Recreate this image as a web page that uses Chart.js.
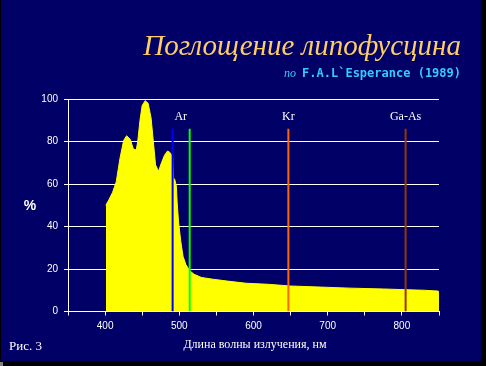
<!DOCTYPE html>
<html>
<head>
<meta charset="utf-8">
<script src="https://cdn.jsdelivr.net/npm/chart.js@4/dist/chart.umd.min.js"></script>
<style>
html,body{margin:0;padding:0;background:#000;}
#wrap{position:relative;width:486px;height:366px;}
</style>
</head>
<body>
<div id="wrap"><canvas id="c" width="486" height="366"></canvas></div>
<script>
// Wavelength (nm) and absorption (%) of lipofuscin
const wavelengths = [401, 405, 410, 415, 420, 425, 429, 434, 438, 442, 444, 447, 450, 454, 458, 462, 465, 468, 472, 476, 480, 484, 487, 491, 492, 494, 496, 497, 499, 502, 505, 509, 514, 520, 530, 545, 565, 590, 620, 650, 690, 730, 775, 810, 830, 849, 850];
const absorption  = [50, 52.5, 56, 61, 72, 80.5, 82.7, 81, 76.5, 76, 80, 90, 97, 99.2, 98, 91, 80, 69, 66, 70, 73.5, 75.5, 75, 73, 63, 62, 59, 52, 42, 33, 26, 22, 19.2, 17.5, 16, 15.2, 14.3, 13.3, 12.8, 12, 11.5, 11, 10.6, 10.2, 10, 9.6, 7.8];

// Laser lines
const laserNames = ['Ar', 'Ar', 'Kr', 'Ga-As'];
const laserWavelengths = [491, 514, 647, 805];
const laserTop = 86;
const laserColors = ['#0000FF', '#00FF00', '#FF6600', '#993300'];
const laserLabels = [{text: 'Ar', at: 502}, {text: 'Kr', at: 647}, {text: 'Ga-As', at: 805}];

const xTicks = [400, 500, 600, 700, 800];
const yTicks = [0, 20, 40, 60, 80, 100];

const NAVY = '#000066';

const datasets = [{
  label: 'absorption',
  data: wavelengths.map((x, i) => ({x: x, y: absorption[i]})),
  fill: 'origin',
  backgroundColor: '#FFFF00',
  borderColor: '#FFFF00',
  borderWidth: 1,
  pointRadius: 0,
  tension: 0,
  order: 5
}];
laserWavelengths.forEach((w, i) => {
  datasets.push({
    label: laserNames[i],
    data: [{x: w, y: 0}, {x: w, y: laserTop}],
    borderColor: laserColors[i],
    borderWidth: 2,
    pointRadius: 0,
    fill: false,
    order: 1
  });
});

const decor = {
  id: 'decor',
  beforeDraw(chart) {
    const ctx = chart.ctx;
    ctx.save();
    ctx.fillStyle = '#000';
    ctx.fillRect(0, 0, chart.width, chart.height);
    ctx.fillStyle = NAVY;
    ctx.fillRect(1, 0, 480, 361);
    ctx.fillStyle = '#808080';
    ctx.fillRect(0, 362, 3, 4);
    ctx.restore();
  },
  afterDraw(chart) {
    const ctx = chart.ctx;
    const xs = chart.scales.x, ys = chart.scales.y;
    ctx.save();
    // Title
    ctx.textBaseline = 'alphabetic';
    ctx.textAlign = 'right';
    ctx.fillStyle = '#FFCC66';
    ctx.font = 'italic 29px "Liberation Serif", "DejaVu Serif", serif';
    ctx.fillText('Поглощение липофусцина', 461, 55);
    // Subtitle
    ctx.fillStyle = '#33CCFF';
    ctx.font = 'bold 12px "DejaVu Sans Mono", monospace';
    const sub = 'F.A.L`Esperance (1989)';
    ctx.fillText(sub, 461, 77);
    const sw = ctx.measureText(sub).width;
    ctx.font = 'italic 12px "Liberation Serif", serif';
    ctx.fillText('по', 461 - sw - 6, 77);
    // Laser labels
    ctx.textAlign = 'center';
    ctx.fillStyle = '#FFFFFF';
    ctx.font = '12px "Liberation Serif", serif';
    laserLabels.forEach(l => {
      ctx.fillText(l.text, xs.getPixelForValue(l.at), ys.getPixelForValue(laserTop) - 9);
    });
    // Axis titles and caption
    ctx.font = '12px "Liberation Serif", serif';
    ctx.fillText('Длина волны излучения, нм', 255, 348);
    ctx.textAlign = 'left';
    ctx.font = '13px "Liberation Serif", serif';
    ctx.fillText('Рис. 3', 9, 350);
    ctx.textAlign = 'center';
    ctx.font = 'bold 14px "Liberation Sans", Arial, sans-serif';
    ctx.fillText('%', 30, 210);
    ctx.restore();
  }
};

new Chart(document.getElementById('c'), {
  type: 'line',
  data: {datasets: datasets},
  options: {
    responsive: false,
    animation: false,
    events: [],
    layout: {padding: {left: 0, top: 99, right: 47, bottom: 0}},
    plugins: {legend: {display: false}, tooltip: {enabled: false}, title: {display: false}},
    scales: {
      x: {
        type: 'linear',
        min: 350, max: 850,
        afterFit(s) { s.height = 54.5; },
        afterBuildTicks(s) { s.ticks = []; for (let v = 350; v <= 850; v += 50) s.ticks.push({value: v}); },
        ticks: {
          color: '#FFFFFF',
          font: {family: '"Liberation Sans", Arial, sans-serif', size: 10},
          padding: 5,
          maxRotation: 0,
          autoSkip: false,
          callback: v => xTicks.includes(v) ? String(v) : ''
        },
        grid: {drawOnChartArea: false, color: '#FFFFFF', tickLength: 4, tickColor: '#FFFFFF'},
        border: {color: '#FFFFFF', width: 1}
      },
      y: {
        min: 0, max: 100,
        afterFit(s) { s.width = 68; },
        afterBuildTicks(s) { s.ticks = yTicks.map(v => ({value: v})); },
        ticks: {
          color: '#FFFFFF',
          font: {family: '"Liberation Sans", Arial, sans-serif', size: 10},
          padding: 6
        },
        grid: {color: '#FFFFFF', lineWidth: 1, tickLength: 4, tickColor: '#FFFFFF'},
        border: {color: '#FFFFFF', width: 1}
      }
    }
  },
  plugins: [decor]
});
</script>
</body>
</html>
